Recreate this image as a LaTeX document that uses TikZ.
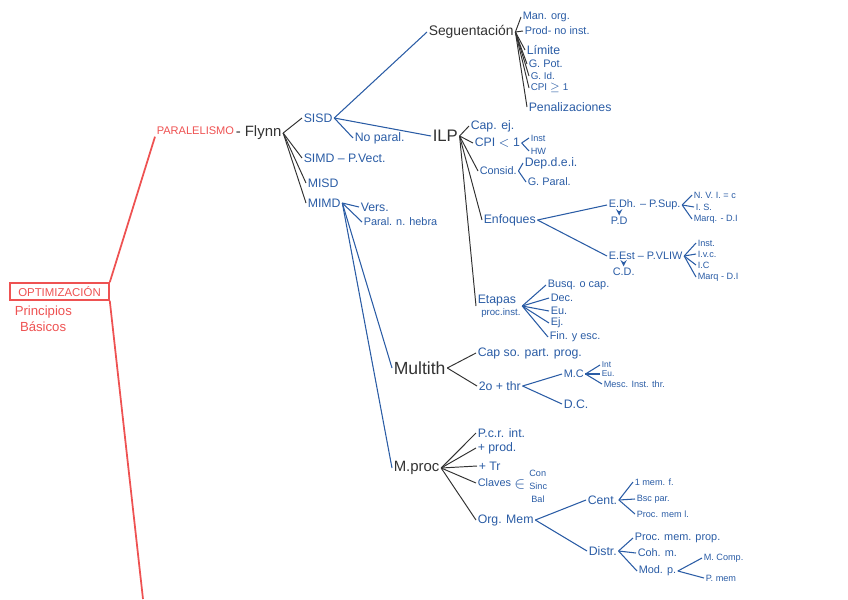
\documentclass[tikz,border=0pt]{standalone}
\usepackage{fontspec}
\setmainfont{Liberation Sans}
\usetikzlibrary{positioning}
\definecolor{mapred}{RGB}{238,82,82}
\definecolor{mapblue}{RGB}{42,92,165}
\definecolor{mapink}{RGB}{50,50,50}

\begin{document}
\begin{tikzpicture}[x=0.02cm, y=-0.02cm,
    lbl/.style={anchor=west, inner sep=0.8pt, text=mapblue, font=\fontsize{7}{8}\selectfont},
    lblsm/.style={lbl, font=\fontsize{6.2}{7}\selectfont},
    lbltiny/.style={lbl, font=\fontsize{5.2}{6}\selectfont},
    lblbig/.style={lbl, text=mapink, font=\fontsize{8.5}{9}\selectfont},
    lblred/.style={lbl, text=mapred, font=\fontsize{6.5}{7}\selectfont},
    inkline/.style={draw=mapink, line width=0.55pt},
    blueline/.style={draw=mapblue, line width=0.6pt},
    redline/.style={draw=mapred, line width=1pt}]
    \useasboundingbox (0,0) rectangle (848,599);

    % root
    \node[lblred, draw=mapred, line width=0.9pt, anchor=center, minimum width=1.98cm, minimum height=0.34cm] (opt) at (59.5,291.5) {OPTIMIZACIÓN};
    \node[lblred, font=\fontsize{7.5}{9}\selectfont, align=left] (princ) at (13,319) {Principios\\\hspace{3pt}Básicos};
    \node[lblred, font=\fontsize{6.3}{7}\selectfont] (par) at (155,131) {PARALELISMO};
    \node[lblbig] (flynn) at (234,133) {- Flynn};
    \coordinate (optend) at (143,599);
    \draw[redline] (opt.north east) -- (par.south west);
    \draw[redline] (opt.south east) -- (optend);

    % Flynn
    \node[lbl] (sisd) at (302,118) {SISD};
    \node[lbl] (simd) at (302,158) {SIMD – P.Vect.};
    \node[lbl] (misd) at (306,183) {MISD};
    \node[lbl] (mimd) at (306,203) {MIMD};
    \foreach \n in {sisd,simd,misd,mimd}
      \draw[inkline] (flynn.east) -- (\n.west);

    % SISD
    \node[lblbig, font=\fontsize{7.9}{9}\selectfont] (seg) at (427,32) {Seguentación};
    \node[lbl] (nopar) at (353,138) {No paral.};
    \node[lblbig, font=\fontsize{9.5}{10}\selectfont] (ilp) at (431,136) {ILP};
    \foreach \n in {seg,nopar,ilp}
      \draw[blueline] (sisd.east) -- (\n.west);

    % Seguentacion
    \node[lblsm] (manorg) at (521,17) {Man. org.};
    \node[lblsm] (prodni) at (523,31) {Prod- no inst.};
    \node[lbl] (limite) at (525,50) {Límite};
    \node[lblsm] (gpot) at (527,64) {G. Pot.};
    \node[lbltiny, font=\fontsize{5.6}{6}\selectfont] (gid) at (529,76) {G. Id.};
    \node[lbltiny, font=\fontsize{5.6}{6}\selectfont] (cpige) at (529,88) {CPI $\geq$ 1};
    \node[lbl] (penal) at (527,107) {Penalizaciones};
    \foreach \n in {manorg,prodni,limite,gpot,gid,cpige,penal}
      \draw[inkline] (seg.east) -- (\n.west);

    % ILP
    \node[lbl] (capej) at (469,126) {Cap. ej.};
    \node[lbl] (cpilt) at (473,143) {CPI $<$ 1};
    \node[lblsm] (consid) at (478,171) {Consid.};
    \node[lbl] (enfoq) at (482,220) {Enfoques};
    \node[lbl, font=\fontsize{7}{7}\selectfont, align=left] (etapas) at (476,306) {Etapas\\{\fontsize{5.5}{6}\selectfont\hspace{2pt}proc.inst.}};
    \foreach \n in {capej,cpilt,consid,enfoq,etapas}
      \draw[inkline] (ilp.east) -- (\n.west);

    \node[lbltiny] (inst) at (529,138) {Inst};
    \node[lbltiny] (hw) at (529,151) {HW};
    \foreach \n in {inst,hw}
      \draw[blueline] (cpilt.east) -- (\n.west);

    \node[lbl] (depdei) at (523,163) {Dep.d.e.i.};
    \node[lblsm] (gparal) at (526,182) {G. Paral.};
    \foreach \n in {depdei,gparal}
      \draw[blueline] (consid.east) -- (\n.west);

    % Enfoques
    \node[lblsm] (edh) at (607,205) {E.Dh. – P.Sup.};
    \node[lblsm] (pd) at (609,221) {P.D};
    \node[lblsm] (eest) at (607,256) {E.Est – P.VLIW};
    \node[lblsm] (cd) at (611,272) {C.D.};
    \foreach \n in {edh,eest}
      \draw[blueline] (enfoq.east) -- (\n.west);
    \draw[blueline, ->, >=stealth] (edh.south west -| pd.north) -- (pd.north);
    \draw[blueline, ->, >=stealth] (eest.south west -| cd.north) -- (cd.north);

    \node[lbltiny] (nvi) at (692,195) {N. V. I. = c};
    \node[lbltiny] (is) at (694,207) {I. S.};
    \node[lbltiny] (marqa) at (692,219) {Marq. - D.I};
    \foreach \n in {nvi,is,marqa}
      \draw[blueline] (edh.east) -- (\n.west);

    \node[lbltiny] (instb) at (696,243) {Inst.};
    \node[lbltiny] (ivc) at (696,254) {I.v.c.};
    \node[lbltiny] (ic) at (696,265) {I.C};
    \node[lbltiny] (marqb) at (696,277) {Marq - D.I};
    \foreach \n in {instb,ivc,ic,marqb}
      \draw[blueline] (eest.east) -- (\n.west);

    % Etapas
    \node[lblsm] (busq) at (546,285) {Busq. o cap.};
    \node[lblsm] (dec) at (549,298) {Dec.};
    \node[lblsm] (eu) at (549,311) {Eu.};
    \node[lblsm] (ej) at (549,323) {Ej.};
    \node[lblsm] (fin) at (548,337) {Fin. y esc.};
    \foreach \n in {busq,dec,eu,ej,fin}
      \draw[blueline] (etapas.east) -- (\n.west);

    % MIMD
    \node[lbl] (vers) at (359,207) {Vers.};
    \node[lblsm] (phebra) at (362,222) {Paral. n. hebra};
    \node[lblbig, font=\fontsize{10}{11}\selectfont] (multith) at (392,368) {Multith};
    \node[lblbig] (mproc) at (392,468) {M.proc};
    \foreach \n in {vers,phebra,multith,mproc}
      \draw[blueline] (mimd.east) -- (\n.west);

    % Multith
    \node[lbl] (capso) at (476,353) {Cap so. part. prog.};
    \node[lbl] (twothr) at (477,386) {2o + thr};
    \foreach \n in {capso,twothr}
      \draw[inkline] (multith.east) -- (\n.west);

    \node[lblsm] (mc) at (562,374) {M.C};
    \node[lbl] (dc) at (562,404) {D.C.};
    \foreach \n in {mc,dc}
      \draw[blueline] (twothr.east) -- (\n.west);

    \node[lbltiny, font=\fontsize{4.8}{5}\selectfont] (intt) at (600,365) {Int};
    \node[lbltiny, font=\fontsize{4.8}{5}\selectfont] (eub) at (600,374) {Eu.};
    \node[lbltiny] (mesc) at (602,384) {Mesc. Inst. thr.};
    \foreach \n in {intt,eub,mesc}
      \draw[blueline] (mc.east) -- (\n.west);

    % M.proc
    \node[lbl] (pcrint) at (476,433) {P.c.r. int.};
    \node[lbl] (prod) at (476,448) {+ prod.};
    \node[lbl] (tr) at (477,466) {+ Tr};
    \node[lblsm] (claves) at (476,483) {Claves};
    \node[lbl] (orgmem) at (476,520) {Org. Mem};
    \foreach \n in {pcrint,prod,tr,claves,orgmem}
      \draw[inkline] (mproc.east) -- (\n.west);

    % claves: three items
    \node[lbl, font=\fontsize{9}{9}\selectfont, inner sep=0pt] (clvsym) at (514,485) {$\in$};
    \node[lbltiny, inner sep=0pt] (con) at (529,473) {Con};
    \node[lbltiny, inner sep=0pt] (sinc) at (529,486) {Sinc};
    \node[lbltiny, inner sep=0pt] (bal) at (531,499) {Bal};

    \node[lbl] (cent) at (586,500) {Cent.};
    \node[lbl] (distr) at (587,551) {Distr.};
    \foreach \n in {cent,distr}
      \draw[blueline] (orgmem.east) -- (\n.west);

    \node[lbltiny] (umf) at (633,482) {1 mem. f.};
    \node[lbltiny] (bscpar) at (635,499) {Bsc par.};
    \node[lbltiny] (procml) at (635,514) {Proc. mem l.};
    \foreach \n in {umf,bscpar,procml}
      \draw[blueline] (cent.east) -- (\n.west);

    \node[lblsm] (procmp) at (633,538) {Proc. mem. prop.};
    \node[lblsm] (cohm) at (636,553) {Coh. m.};
    \node[lblsm] (modp) at (637,571) {Mod. p.};
    \foreach \n in {procmp,cohm,modp}
      \draw[blueline] (distr.east) -- (\n.west);

    \node[lbltiny] (mcomp) at (702,558) {M. Comp.};
    \node[lbltiny] (pmem) at (704,578) {P. mem};
    \foreach \n in {mcomp,pmem}
      \draw[blueline] (modp.east) -- (\n.west);
\end{tikzpicture}
\end{document}
